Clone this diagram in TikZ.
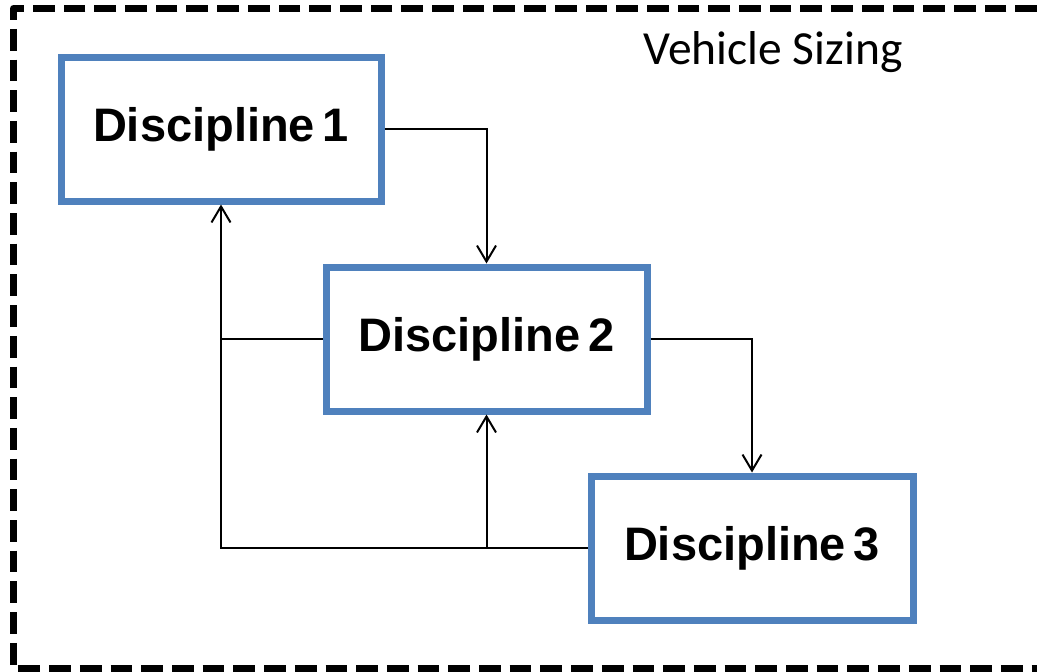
\documentclass[tikz,border=0pt]{standalone}
\usepackage{fontspec}
\setmainfont{Liberation Sans}
\newfontfamily\labelfont{Carlito}
\usetikzlibrary{arrows.meta}
\definecolor{officeblue}{RGB}{79,129,189}
\begin{document}
\begin{tikzpicture}[x=1pt,y=-1pt,
  discbox/.style={draw=officeblue, line width=7pt, fill=white,
    minimum width=320pt, minimum height=144pt, inner sep=0pt,
    font=\fontsize{47}{50}\selectfont\bfseries},
  flow/.style={line width=2pt, black},
  flowarrow/.style={flow, -{Straight Barb[length=16pt,width=19pt]}},
  frame/.style={line width=7pt, dash pattern=on 21.7pt off 9pt, line join=round}]
  \useasboundingbox (0,0) rectangle (1037,672);

  % outer dashed frame; its right side lies just past the picture edge
  \begin{scope}
    \clip (0,0) rectangle (1037,672);
    \draw[frame] (1037,8.5) -- (13.5,8.5) -- (13.5,668.5) -- (1037,668.5);
  \end{scope}

  \node[font=\labelfont\fontsize{47.5}{50}\selectfont, anchor=base] (title) at (773,64) {Vehicle Sizing};

  % discipline boxes
  \node[discbox] (d1) at (221,129) {Discipline\,1};
  \node[discbox, minimum width=321pt] (d2) at (486.5,339) {Discipline\,2};
  \node[discbox, minimum width=322pt] (d3) at (752,548) {Discipline\,3};

  % feed-forward links
  \draw[flowarrow] (d1.east) -| (d2.north);
  \draw[flowarrow] (d2.east) -| (d3.north);

  % feedback links
  \draw[flowarrow] (d3.west) -| (d2.south);
  \draw[flowarrow] (d3.west) -| (d1.south);
  \draw[flow] (d2.west) -- (d2.west -| d1.south);
\end{tikzpicture}
\end{document}
